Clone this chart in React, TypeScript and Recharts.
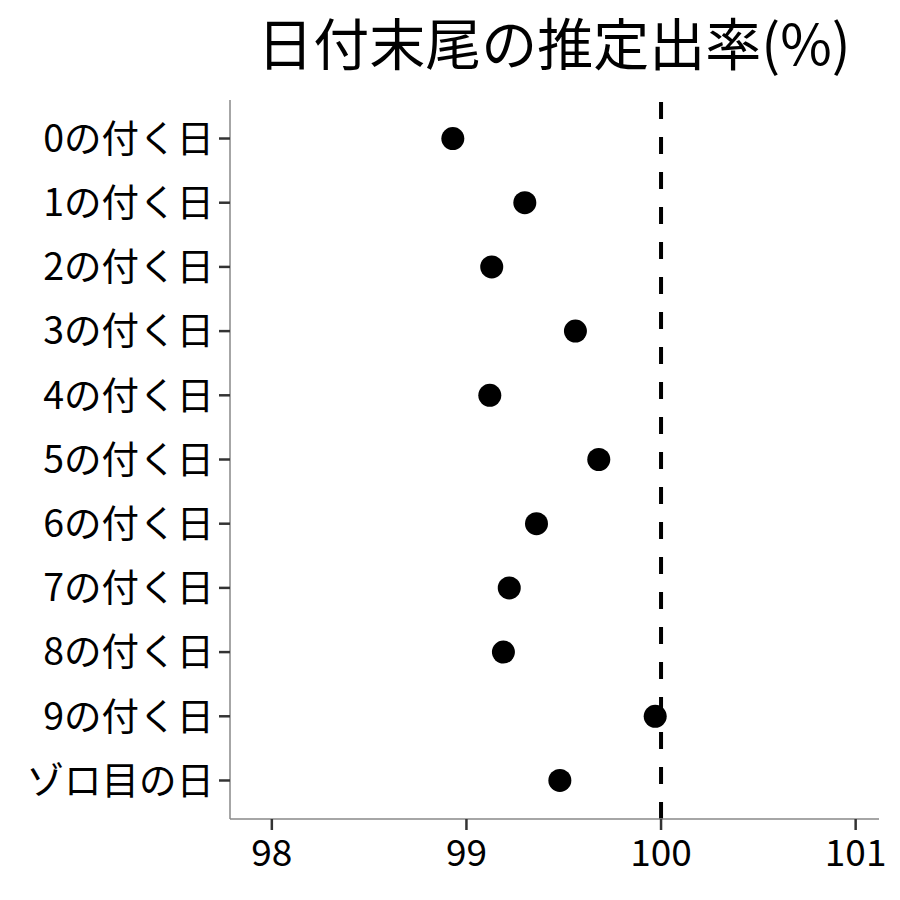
import { ScatterChart, Scatter, XAxis, YAxis, ReferenceLine } from 'recharts';

const labels = [
  '0の付く日',
  '1の付く日',
  '2の付く日',
  '3の付く日',
  '4の付く日',
  '5の付く日',
  '6の付く日',
  '7の付く日',
  '8の付く日',
  '9の付く日',
  'ゾロ目の日',
];

// estimated rate (%) per date ending
const rates = [98.93, 99.3, 99.13, 99.56, 99.12, 99.68, 99.36, 99.22, 99.19, 99.97, 99.48];

const xTicks = [98, 99, 100, 101];
const yTicks = labels.map((_, i) => i);

const data = labels.map((label, i) => ({ label, idx: i, rate: rates[i] }));

const FONT = '"Noto Sans CJK JP", "Noto Sans", sans-serif';

const Dot = (props: any) => {
  const { cx, cy } = props;
  if (cx == null || cy == null) return null;
  return <circle cx={cx} cy={cy} r={11.5} fill="#000" />;
};

export default function App() {
  return (
    <div style={{ position: 'absolute', left: 0, top: 0, width: 900, height: 900, background: '#fff', fontFamily: FONT }}>
      <div style={{ position: 'absolute', left: 0, top: 0 }}>
        <ScatterChart width={900} height={900} margin={{ top: 100, right: 21, bottom: 21, left: 0 }}>
          <XAxis
            type="number"
            dataKey="rate"
            domain={[97.785, 101.12]}
            ticks={xTicks}
            allowDataOverflow
            height={60}
            tickSize={11}
            tickMargin={10}
            axisLine={{ stroke: '#888', strokeWidth: 1.5 }}
            tickLine={{ stroke: '#333', strokeWidth: 2.5 }}
            tick={{ fill: '#000', fontSize: 37, fontFamily: FONT }}
          />
          <YAxis
            type="number"
            dataKey="idx"
            domain={[-0.6, 10.6]}
            reversed
            ticks={yTicks}
            interval={0}
            tickFormatter={(v: number) => labels[v]}
            width={230}
            tickSize={11}
            tickMargin={5}
            axisLine={{ stroke: '#888', strokeWidth: 1.5 }}
            tickLine={{ stroke: '#333', strokeWidth: 2.5 }}
            tick={{ fill: '#000', fontSize: 37.5, fontFamily: FONT }}
          />
          <ReferenceLine x={100} stroke="#000" strokeWidth={4} strokeDasharray="17 18" />
          <Scatter data={data} shape={<Dot />} isAnimationActive={false} />
        </ScatterChart>
      </div>
      <svg width={900} height={120} style={{ position: 'absolute', left: 0, top: 0 }}>
        <text x={554} y={65} textAnchor="middle" fontSize={56} fill="#000" fontFamily={FONT}>
          日付末尾の推定出率(%)
        </text>
      </svg>
    </div>
  );
}
